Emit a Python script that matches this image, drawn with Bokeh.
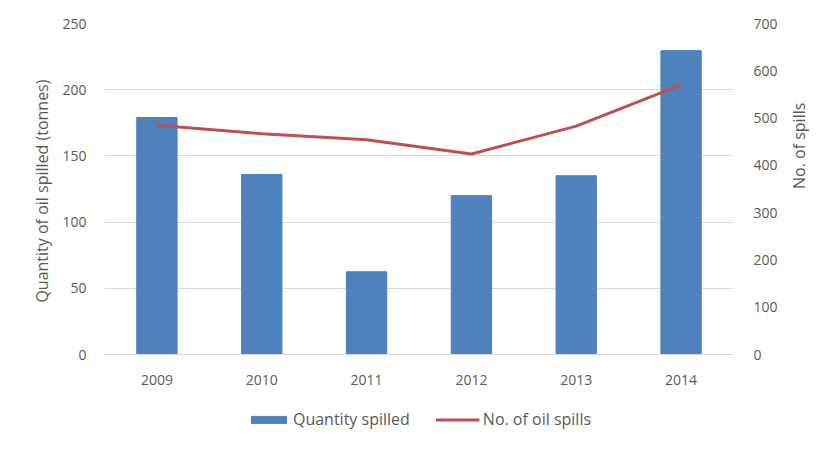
import math
from bokeh.plotting import figure
from bokeh.layouts import column
from bokeh.models import Range1d, LinearAxis, Legend, LegendItem, FactorRange, SingleIntervalTicker
from bokeh.embed import file_html
from bokeh.resources import INLINE

years = ["2009", "2010", "2011", "2012", "2013", "2014"]
quantity_spilled = [179, 136, 62.5, 120, 135, 229.5]
num_spills = [485, 467, 454, 424, 483, 570]
series_names = ["Quantity spilled", "No. of oil spills"]

TXT = "#595959"
FONT = "Open Sans"
BAR_C = "#4F81BD"
LINE_C = "#C0504D"

p = figure(x_range=FactorRange(*years), y_range=Range1d(0, 250),
           width=837, height=399, frame_width=629, frame_height=331,
           min_border_left=104, min_border_right=104, min_border_top=23, min_border_bottom=45,
           output_backend="svg", toolbar_location=None)
p.extra_y_ranges = {"spills": Range1d(0, 700)}

bars = p.vbar(x=years, top=quantity_spilled, width=0.385, color=BAR_C)
line = p.line(x=years, y=num_spills, y_range_name="spills", line_color=LINE_C, line_width=3)

p.outline_line_color = None
p.xgrid.grid_line_color = None
p.ygrid.grid_line_color = "#D9D9D9"
p.ygrid.grid_line_width = 1

yl = p.yaxis[0]
yl.ticker = SingleIntervalTicker(interval=50)
yl.axis_label = "Quantity  of oil spilled (tonnes)"

yr = LinearAxis(y_range_name="spills", ticker=SingleIntervalTicker(interval=100),
                axis_label="No. of spills")
p.add_layout(yr, "right")
if "axis_label_orientation" in yr.properties():
    yr.axis_label_orientation = math.pi / 2

xa = p.xaxis[0]
for ax in [yl, yr, xa]:
    ax.major_tick_line_color = None
    ax.minor_tick_line_color = None
    ax.major_label_text_color = TXT
    ax.major_label_text_font = FONT
    ax.major_label_text_font_size = "14px"
    ax.axis_label_text_color = TXT
    ax.axis_label_text_font = FONT
    ax.axis_label_text_font_size = "16px"
    ax.axis_label_text_font_style = "normal"
yl.axis_line_color = None
yr.axis_line_color = None
xa.axis_line_color = "#D9D9D9"
yl.major_label_standoff = 12
yr.major_label_standoff = 14
xa.major_label_standoff = 14
yl.axis_label_standoff = 6
yr.axis_label_standoff = 18

# legend strip below the chart (proxy glyphs lie outside the visible range)
lg = figure(width=837, height=40, x_range=Range1d(0, 1), y_range=Range1d(0, 1),
            min_border_left=0, min_border_right=0, min_border_top=0, min_border_bottom=0,
            output_backend="svg", toolbar_location=None)
lg.axis.visible = False
lg.grid.visible = False
lg.outline_line_color = None
lb = lg.vbar(x=[5], top=[5], bottom=[4], width=0.385, color=BAR_C)
ll = lg.line(x=[5, 6], y=[5, 5], line_color=LINE_C, line_width=3)

legend = Legend(items=[LegendItem(label=series_names[0], renderers=[lb]),
                       LegendItem(label=series_names[1], renderers=[ll])],
                orientation="horizontal", location="center",
                border_line_color=None, background_fill_alpha=0,
                glyph_width=44, glyph_height=9, label_standoff=3, spacing=26,
                label_text_font=FONT, label_text_font_size="16px", label_text_color=TXT,
                margin=0, padding=4)
lg.add_layout(legend, "center")

layout = column(p, lg, spacing=0)
open("out.html", "w").write(file_html(layout, INLINE))
